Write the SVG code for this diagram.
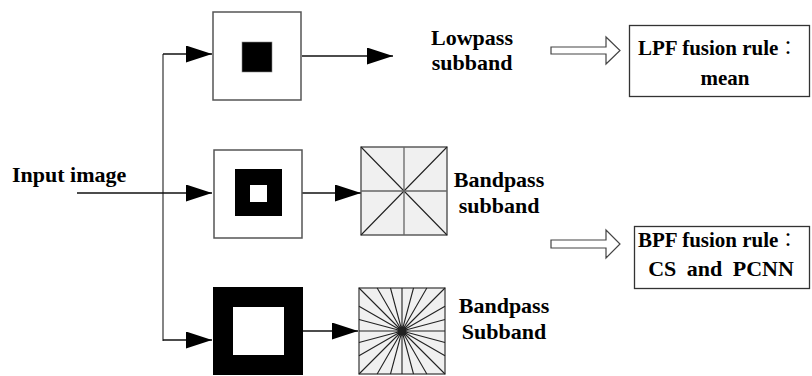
<svg xmlns="http://www.w3.org/2000/svg" width="812" height="376" viewBox="0 0 812 376">
  <style>
    .lbl { font-family: "Liberation Serif", "Noto Sans CJK TC", serif; font-weight: bold; font-size: 22px; fill: #000; }
    .rule { font-size: 21px; }
    .colon { font-weight: normal; font-size: 19px; }
    .frame { fill: #fff; stroke: #555; stroke-width: 1.5; }
    .grid { fill: #f0f0f0; stroke: #444; stroke-width: 1.3; }
    .ray { stroke: #222; stroke-width: 1.1; fill: none; }
    .axis { stroke: #666; stroke-width: 1.3; fill: none; }
    .wire { stroke: #111; stroke-width: 1.3; fill: none; }
    .trunk { stroke: #666; stroke-width: 1.6; fill: none; }
    .hollow { fill: #fff; stroke: #444; stroke-width: 1.2; }
    .box { fill: #fff; stroke: #333; stroke-width: 1.3; }
  </style>
  <defs>
    <marker id="tri" markerUnits="userSpaceOnUse" markerWidth="27" markerHeight="18" refX="26" refY="8.5" orient="auto">
      <path d="M0,0 L26,8.5 L0,17 Z" fill="#000"/>
    </marker>
  </defs>

  <!-- input label -->
  <text class="lbl" x="12" y="182">Input image</text>

  <!-- connectors -->
  <g id="connectors">
    <path class="trunk" d="M163,54 V341"/>
    <path class="wire" d="M77,193 H212" marker-end="url(#tri)"/>
    <path class="wire" d="M163,54 H212" marker-end="url(#tri)"/>
    <path class="wire" d="M163,340 H212" marker-end="url(#tri)"/>
    <path class="wire" d="M302,56 H393" marker-end="url(#tri)"/>
    <path class="wire" d="M302,193 H361" marker-end="url(#tri)"/>
    <path class="wire" d="M303,331 H358" marker-end="url(#tri)"/>
    <!-- hollow arrows -->
    <path class="hollow" d="M551,47 H606 V37 L620,50.5 L606,64 V54 H551 Z"/>
    <path class="hollow" d="M551,240 H606 V230 L620,244 L606,258 V248 H551 Z"/>
  </g>

  <!-- lowpass filter -->
  <g id="lowpass-filter">
    <rect class="frame" x="213" y="12" width="88" height="88"/>
    <rect x="242" y="42" width="30" height="30" fill="#000" stroke="#888" stroke-width="0.6"/>
  </g>

  <!-- bandpass filter (fine) -->
  <g id="bandpass-filter-1">
    <rect class="frame" x="214" y="150" width="88" height="88"/>
    <rect x="235" y="169" width="47" height="47" fill="#000"/>
    <rect x="250" y="185" width="17" height="17" fill="#fff"/>
  </g>

  <!-- bandpass filter (coarse) -->
  <g id="bandpass-filter-2">
    <rect x="213" y="287" width="90" height="88" fill="#000"/>
    <rect x="233" y="307" width="51" height="48" fill="#fff"/>
  </g>

  <!-- 8-direction subband -->
  <g id="subband-8dir">
    <rect class="grid" x="361" y="147" width="86" height="88"/>
    <path class="ray" d="M361,147 L447,235 M361,235 L447,147"/>
    <path class="axis" d="M404,147 V235 M361,191 H447"/>
  </g>

  <!-- 24-direction subband -->
  <g id="subband-24dir">
    <rect class="grid" x="359" y="288" width="86" height="86"/>
    <path class="ray" d="M359,331 H445 M402,288 V374
      M359,319.48 L445,342.52 M359,342.52 L445,319.48
      M359,306.17 L445,355.83 M359,355.83 L445,306.17
      M359,288 L445,374 M359,374 L445,288
      M377.17,288 L426.83,374 M426.83,288 L377.17,374
      M390.48,288 L413.52,374 M413.52,288 L390.48,374"/>
  </g>

  <!-- subband labels -->
  <g id="label-lowpass">
    <text class="lbl" x="472" y="45" text-anchor="middle">Lowpass</text>
    <text class="lbl" x="472" y="70" text-anchor="middle">subband</text>
  </g>
  <g id="label-bandpass-1">
    <text class="lbl" x="499" y="187" text-anchor="middle">Bandpass</text>
    <text class="lbl" x="499" y="213" text-anchor="middle">subband</text>
  </g>
  <g id="label-bandpass-2">
    <text class="lbl" x="504" y="313" text-anchor="middle">Bandpass</text>
    <text class="lbl" x="504" y="339" text-anchor="middle">Subband</text>
  </g>

  <!-- fusion rules -->
  <g id="rule-lpf">
    <rect class="box" x="629.5" y="25.5" width="180" height="71"/>
    <text class="lbl rule" x="638" y="55">LPF fusion rule<tspan class="colon">：</tspan></text>
    <text class="lbl rule" x="725" y="85" text-anchor="middle">mean</text>
  </g>
  <g id="rule-bpf">
    <rect class="box" x="634.5" y="226.5" width="175" height="62"/>
    <text class="lbl rule" x="638" y="247">BPF fusion rule<tspan class="colon">：</tspan></text>
    <text class="lbl" x="721" y="276" text-anchor="middle" word-spacing="5">CS and PCNN</text>
  </g>
</svg>
